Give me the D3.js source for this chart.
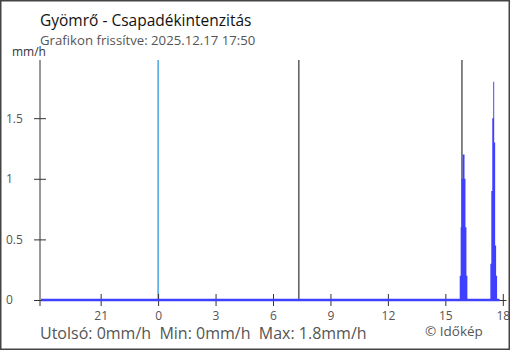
<!DOCTYPE html>
<html>
<head>
<meta charset="utf-8">
<script src="https://cdn.jsdelivr.net/npm/d3@7"></script>
<style>
  body { margin: 0; background: #fff; }
  svg { display: block; font-family: "Open Sans", "Noto Sans", sans-serif; }
</style>
</head>
<body>
<div class="chart"></div>
<script>
var svgWidth = 510;
var svgHeight = 350;

var margin = { top: 60, right: 4, bottom: 50, left: 40 };

var width = svgWidth - margin.left - margin.right;
var height = svgHeight - margin.top - margin.bottom;

// minutes from local midnight of 2025.12.17 (negative = previous day)
var startTime = -370;   // 12.16 17:50
var endTime = 1070;     // 12.17 17:50
var axisEnd = 1090;

var tickTimes = [-180, 0, 180, 360, 540, 720, 900, 1080];

// midnight, sunrise, sunset
var markerTimes = [0, 441, 952];
var markerColors = ["#1a8fe0", "#333", "#333"];

// precipitation intensity (mm/h), 3 minute bins
var rainTimes = [945, 948, 951, 954, 957, 960, 963, 966,
                 1041, 1044, 1047, 1050, 1053, 1056, 1059];
var rainValues = [0.2, 0.6, 1.0, 1.2, 1.2, 1.0, 0.6, 0.2,
                  0.3, 0.9, 1.5, 1.8, 1.3, 0.45, 0.2];
var binMinutes = 3;

var yTicks = [0, 0.5, 1, 1.5];
var yMax = 1.98;

var svg = d3.select(".chart")
  .append("svg")
  .attr("width", svgWidth)
  .attr("height", svgHeight);

var x = d3.scaleLinear().domain([startTime, axisEnd]).range([0, width]);
var y = d3.scaleLinear().domain([0, yMax]).range([height, 0]);

var chartGroup = svg.append("g")
  .attr("transform", `translate(${margin.left}, ${margin.top})`);

// day / sun markers
chartGroup.selectAll(".marker")
  .data(markerTimes)
  .enter()
  .append("line")
  .attr("x1", d => x(d))
  .attr("x2", d => x(d))
  .attr("y1", 0)
  .attr("y2", height)
  .attr("stroke", (d, i) => markerColors[i])
  .attr("stroke-width", 1.2);

// x axis
var bottomAxis = d3.axisBottom(x)
  .tickValues(tickTimes)
  .tickSizeInner(6)
  .tickSizeOuter(0)
  .tickFormat(d => String(((d / 60) + 24) % 24));

var xAxis = chartGroup.append("g")
  .attr("transform", `translate(0, ${height})`)
  .call(bottomAxis);

xAxis.select(".domain").attr("stroke", "#333");
xAxis.selectAll(".tick line").attr("stroke", "#333").attr("y1", -6).attr("y2", 6);
xAxis.selectAll(".tick text")
  .attr("y", 11)
  .attr("fill", "#555")
  .attr("font-size", "12px")
  .attr("font-family", "Open Sans, sans-serif");

// y axis
var leftAxis = d3.axisLeft(y)
  .tickValues(yTicks)
  .tickSizeInner(6)
  .tickSizeOuter(0)
  .tickFormat(d3.format("~g"));

var yAxis = chartGroup.append("g").call(leftAxis);
yAxis.select(".domain").remove();
yAxis.selectAll(".tick line").attr("stroke", "#333").attr("x1", -6).attr("x2", 6);
yAxis.selectAll(".tick text")
  .attr("x", -34)
  .attr("text-anchor", "start")
  .attr("fill", "#555")
  .attr("font-size", "12px")
  .attr("font-family", "Open Sans, sans-serif");

chartGroup.append("line")
  .attr("x1", 0).attr("x2", 0)
  .attr("y1", 0).attr("y2", height + 6)
  .attr("stroke", "#333");

// baseline of the series
chartGroup.append("line")
  .attr("x1", x(startTime) + 1)
  .attr("x2", x(endTime))
  .attr("y1", y(0))
  .attr("y2", y(0))
  .attr("stroke", "#4040ff")
  .attr("stroke-width", 2.5);

// intensity bars, drawn as one stepped shape per shower
var showers = [rainTimes.slice(0, 8), rainTimes.slice(8)];
var valueAt = {};
rainTimes.forEach((t, i) => { valueAt[t] = rainValues[i]; });

var stepArea = d3.area()
  .curve(d3.curveStepAfter)
  .x(d => x(d.t))
  .y0(y(0))
  .y1(d => y(d.v));

chartGroup.selectAll(".shower")
  .data(showers)
  .enter()
  .append("path")
  .attr("d", s => {
    var pts = s.map(t => ({ t: t, v: valueAt[t] }));
    pts.push({ t: s[s.length - 1] + binMinutes, v: 0 });
    return stepArea(pts);
  })
  .attr("fill", "#3f3fff");

// texts
svg.append("text")
  .attr("x", 40).attr("y", 26)
  .attr("font-size", "15.5px")
  .attr("fill", "#111")
  .text("Gyömrő - Csapadékintenzitás");

svg.append("text")
  .attr("x", 40).attr("y", 45)
  .attr("font-size", "13.2px")
  .attr("fill", "#555")
  .text("Grafikon frissítve: 2025.12.17 17:50");

svg.append("text")
  .attr("x", 12).attr("y", 56)
  .attr("font-size", "12px")
  .attr("fill", "#333")
  .text("mm/h");

svg.append("text")
  .attr("x", 40).attr("y", 339)
  .attr("font-size", "16px")
  .attr("fill", "#555")
  .attr("xml:space", "preserve")
  .text("Utolsó: 0mm/h  Min: 0mm/h  Max: 1.8mm/h");

svg.append("text")
  .attr("x", 425).attr("y", 336)
  .attr("font-size", "13.5px")
  .attr("fill", "#555")
  .text("© Időkép");

// frame
svg.append("rect")
  .attr("x", 0.75).attr("y", 0.75)
  .attr("width", svgWidth - 1.5)
  .attr("height", svgHeight - 1.5)
  .attr("fill", "none")
  .attr("stroke", "#444")
  .attr("stroke-width", 1.5);
</script>
</body>
</html>
